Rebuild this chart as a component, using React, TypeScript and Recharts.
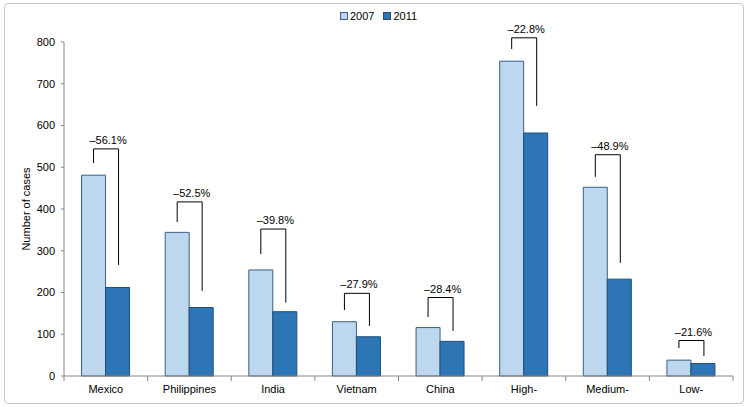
import React from 'react';
import { BarChart, Bar, XAxis, YAxis, LabelList } from 'recharts';

const categories = ['Mexico', 'Philippines', 'India', 'Vietnam', 'China', 'High-', 'Medium-', 'Low-'];
const cases2007 = [481, 344, 254, 130, 116, 754, 452, 38];
const cases2011 = [212, 164, 154, 94, 83, 582, 232, 30];
const changeLabels = ['\u201356.1%', '\u201352.5%', '\u201339.8%', '\u201327.9%', '\u201328.4%', '\u201322.8%', '\u201348.9%', '\u201321.6%'];
// bracket geometry in data units: top bar, left leg end, right leg end
const bracketTop = [544, 417, 352, 198, 188, 810, 530, 85];
const bracketLeftEnd = [510, 369, 292, 158, 141, 783, 477, 67];
const bracketRightEnd = [266, 204, 176, 120, 108, 647, 271, 48];
const yTicks = [0, 100, 200, 300, 400, 500, 600, 700, 800];

const data = categories.map((c, i) => ({
  name: c,
  y2007: cases2007[i],
  y2011: cases2011[i],
  idx: i,
}));

const FONT = '"Liberation Sans", Arial, sans-serif';
const PLOT_LEFT = 64;
const PLOT_RIGHT = 733;
const BAND = (PLOT_RIGHT - PLOT_LEFT) / categories.length;

const XTick = (props: any) => {
  const { x, y, payload, index } = props;
  const left = x - BAND / 2;
  const right = x + BAND / 2;
  return (
    <g>
      <line x1={left} y1={y - 8} x2={left} y2={y - 3} stroke="#868686" />
      {index === categories.length - 1 && (
        <line x1={right} y1={y - 8} x2={right} y2={y - 3} stroke="#868686" />
      )}
      <text x={x} y={y + 9} textAnchor="middle" fontSize={11} fontFamily={FONT} fill="#000">
        {payload.value}
      </text>
    </g>
  );
};

const Bracket = (props: any) => {
  const { x, y, width, height, index } = props;
  const v = cases2011[index];
  const ppu = height / v;
  const base = y + height;
  const toY = (d: number) => base - d * ppu;
  const lx = x - width / 2;
  const rx = x + width / 2 + 1;
  const ty = toY(bracketTop[index]);
  return (
    <g>
      <path
        d={`M${lx},${toY(bracketLeftEnd[index])} L${lx},${ty} L${rx},${ty} L${rx},${toY(bracketRightEnd[index])}`}
        fill="none"
        stroke="#000"
        strokeWidth={1}
      />
      <text x={(lx + rx) / 2 + 2} y={ty - 5} textAnchor="middle" fontSize={11} fontFamily={FONT} fill="#000">
        {changeLabels[index]}
      </text>
    </g>
  );
};

const YLabel = (props: any) => {
  const vb = props.viewBox || { x: 0, y: 42, width: 64, height: 334 };
  const cx = vb.x + 30;
  const cy = vb.y + vb.height / 2;
  return (
    <text
      x={cx}
      y={cy}
      textAnchor="middle"
      fontSize={11}
      fontFamily={FONT}
      fill="#000"
      transform={`rotate(-90, ${cx}, ${cy})`}
    >
      Number of cases
    </text>
  );
};

export default function App() {
  return (
    <div style={{ position: 'absolute', left: 0, top: 0, width: 750, height: 407, background: '#fff', fontFamily: FONT }}>
      <div
        style={{
          position: 'absolute',
          left: 4,
          top: 3,
          width: 740,
          height: 401,
          border: '1px solid #c9c9c9',
          borderRadius: 4,
          boxSizing: 'border-box',
        }}
      />
      <div
        style={{
          position: 'absolute',
          top: 10,
          left: 340,
          display: 'flex',
          alignItems: 'center',
          fontSize: 11,
          fontFamily: FONT,
          color: '#000',
        }}
      >
        <span style={{ width: 6, height: 6, background: '#bdd7ee', border: '1px solid #3a5f86', display: 'inline-block', marginRight: 2 }} />
        <span style={{ marginRight: 9 }}>2007</span>
        <span style={{ width: 6, height: 6, background: '#2e75b6', border: '1px solid #1f4e79', display: 'inline-block', marginRight: 2 }} />
        <span>2011</span>
      </div>
      <div style={{ position: 'absolute', left: 0, top: 0 }}>
        <BarChart
          width={750}
          height={407}
          data={data}
          margin={{ top: 42, right: 750 - PLOT_RIGHT, bottom: 0, left: 0 }}
          barCategoryGap="21%"
          barGap={0}
        >
          <YAxis
            width={PLOT_LEFT}
            domain={[0, 800]}
            ticks={yTicks}
            interval={0}
            axisLine={{ stroke: '#868686' }}
            tickLine={{ stroke: '#868686' }}
            tickSize={3}
            tickMargin={6}
            tick={{ fontSize: 11, fontFamily: FONT, fill: '#000' }}
            label={<YLabel />}
          />
          <XAxis
            dataKey="name"
            height={31}
            interval={0}
            axisLine={{ stroke: '#868686' }}
            tickLine={false}
            tick={<XTick />}
          />
          <Bar dataKey="y2007" fill="#bdd7ee" stroke="#3a5f86" strokeWidth={1} isAnimationActive={false} />
          <Bar dataKey="y2011" fill="#2e75b6" stroke="#1f4e79" strokeWidth={1} isAnimationActive={false}>
            <LabelList dataKey="y2011" content={<Bracket />} />
          </Bar>
        </BarChart>
      </div>
    </div>
  );
}
